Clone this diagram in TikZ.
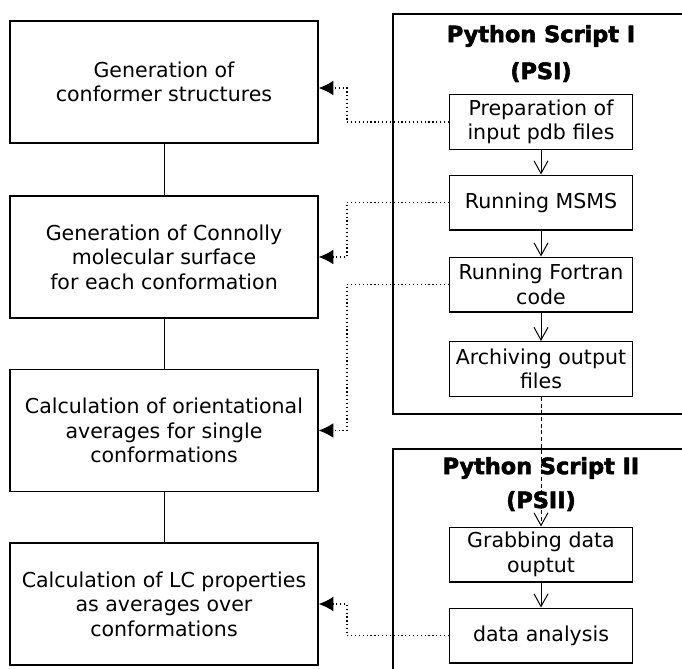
\documentclass[tikz,border=0pt]{standalone}
\usepackage{fontspec}
\setmainfont{DejaVu Sans}
\newfontfamily\heavyfont[FakeBold=2.5]{DejaVu Sans Bold}
\usetikzlibrary{arrows.meta, calc, positioning}

\begin{document}
\begin{tikzpicture}[x=0.75pt,y=-0.75pt,
  stage/.style={draw,line width=1pt,minimum width=231pt,minimum height=91.5pt,align=center,
    font=\fontsize{15.4pt}{18.4pt}\selectfont},
  task/.style={draw,line width=1pt,minimum width=137pt,minimum height=41pt,inner sep=1pt,align=center,
    font=\fontsize{15.4pt}{18.4pt}\selectfont},
  title/.style={font=\fontsize{16.8pt}{20pt}\heavyfont},
  feed/.style={dotted,line width=0.9pt,-{Latex[length=11pt,width=11pt]}},
  next/.style={line width=0.75pt,-{Straight Barb[length=9.5pt,width=10.5pt]}}]
\useasboundingbox (0,0) rectangle (682,668);

% script frames
\draw[line width=1pt] (393,14) rectangle (700,414);
\draw[line width=1pt] (393,449) rectangle (700,700);
\node[title] (psi)   at (541,36)  {Python Script I};
\node[title] (psiab) at (541,72)  {(PSI)};
\node[title] (psii)  at (541,468) {Python Script II};
\node[title] (psiiab) at (541,501) {(PSII)};

% main workflow
\node[stage] (gen)    at (164,82)    {Generation of\\conformer structures};
\node[stage] (surf)   at (164,257)   {Generation of Connolly\\molecular surface\\for each conformation};
\node[stage] (orient) at (164,430.5) {Calculation of orientational\\averages for single\\conformations};
\node[stage] (props)  at (164,604)   {Calculation of LC properties\\as averages over\\conformations};

% script steps
\node[task] (prep) at (541,122)   {Preparation of\\input pdb files};
\node[task] (msms) at (541,202.5) {Running MSMS};
\node[task] (fort) at (541,284.5) {Running Fortran\\code};
\node[task] (arch) at (541,369)   {Archiving output\\files};
\node[task] (grab) at (541,554.5) {Grabbing data\\ouptut};
\node[task] (anal) at (541,635.5) {data analysis};

\foreach \a/\b in {gen/surf, surf/orient, orient/props}
  \draw[line width=0.75pt] (\a) -- (\b);
\foreach \a/\b in {prep/msms, msms/fort, fort/arch, grab/anal}
  \draw[next] (\a) -- (\b);
\draw[next,dash pattern=on 3pt off 2pt] (arch) -- (grab);

% links back to the workflow
\draw[feed] (prep.west) -- ++(-102,0) |- ([yshift=-4.5pt]gen.east);
\foreach \s/\t in {msms/surf, fort/orient, anal/props}
  \draw[feed] (\s.west) -- ++(-102,0) |- (\t.east);
\end{tikzpicture}
\end{document}
